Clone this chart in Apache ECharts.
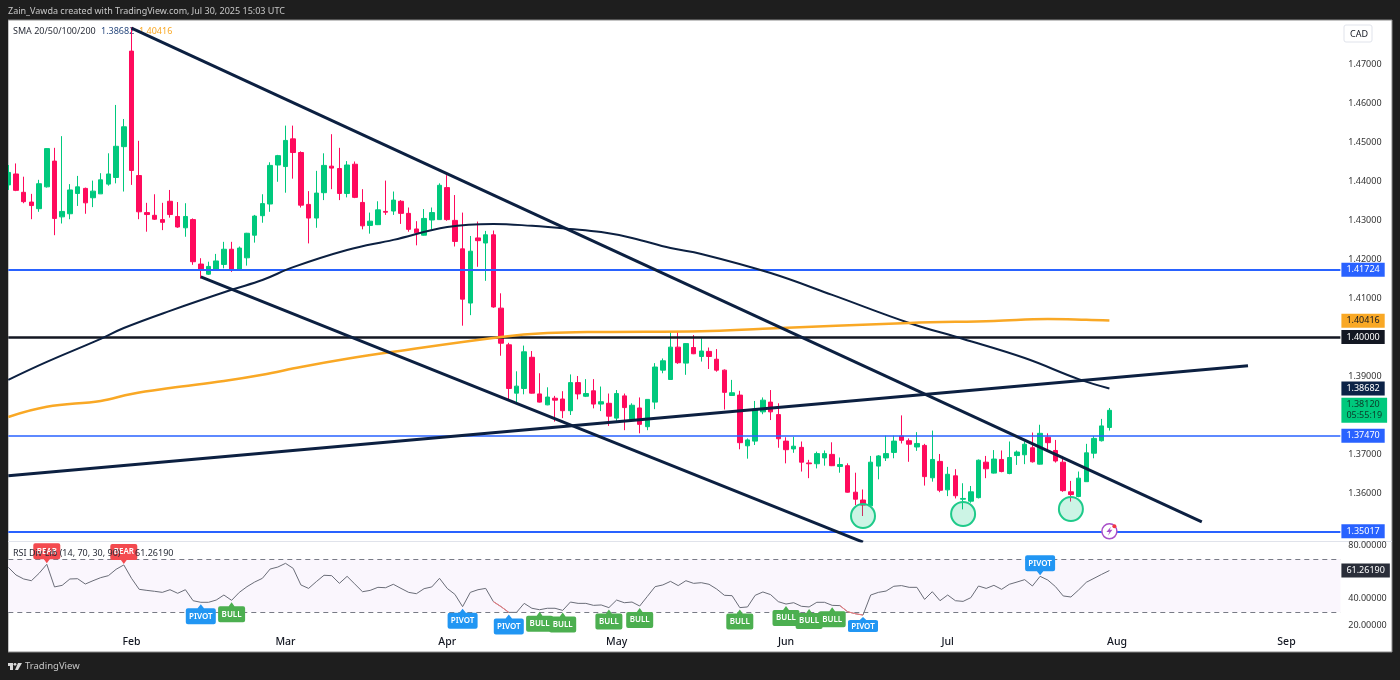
<!DOCTYPE html>
<html>
<head>
<meta charset="utf-8">
<title>USD/CAD</title>
<style>
  html, body { margin: 0; padding: 0; background: #1e1e1e; }
  .box { width: 1400px; height: 680px; }
</style>
<script src="https://cdn.jsdelivr.net/npm/echarts@6/dist/echarts.min.js"></script>
</head>
<body>
<div class="box"></div>
<script>
// daily candles
const opens = [
  1.4390,1.4418,1.4371,1.4346,1.4329,1.4385,1.4451,1.4308,1.4316,1.4368,
  1.4381,1.4357,1.4367,1.4392,1.4409,1.4488,1.4733,1.4414,1.4319,1.4312,
  1.4301,1.4348,1.4309,1.4280,1.4301,1.4187,1.4161,1.4173,1.4186,1.4225,
  1.4172,1.4203,1.4261,1.4311,1.4341,1.4441,1.4437,1.4508,1.4473,1.4340,
  1.4305,1.4370,1.4438,1.4432,1.4368,1.4443,1.4345,1.4286,1.4288,1.4322,
  1.4323,1.4348,1.4317,1.4277,1.4261,1.4300,1.4301,1.4383,1.4299,1.4226,
  1.4087,1.4254,1.4241,1.4262,1.4074,1.3980,1.3856,1.3868,1.3948,1.3854,
  1.3826,1.3843,1.3841,1.3811,1.3883,1.3848,1.3862,1.3828,1.3830,1.3792,
  1.3849,1.3789,1.3818,1.3770,1.3833,1.3915,1.3891,1.3974,1.3933,1.3973,
  1.3950,1.3963,1.3943,1.3915,1.3850,1.3851,1.3721,1.3733,1.3808,1.3833,
  1.3801,1.3733,1.3713,1.3717,1.3677,1.3675,1.3690,1.3699,1.3668,1.3670,
  1.3602,1.3582,1.3567,1.3669,1.3690,1.3704,1.3746,1.3734,1.3718,1.3722,
  1.3639,1.3681,1.3608,1.3644,1.3584,1.3579,1.3588,1.3679,1.3651,1.3686,
  1.3650,1.3696,1.3698,1.3716,1.3674,1.3743,1.3709,1.3679,1.3603,1.3591,1.3629,1.3702,1.3734,1.3768
];
const closes = [
  1.4422,1.4376,1.4347,1.4337,1.4393,1.4483,1.4304,1.4322,1.4377,1.4385,
  1.4344,1.4374,1.4403,1.4418,1.4489,1.4539,1.4427,1.4321,1.4314,1.4302,
  1.4294,1.4314,1.4282,1.4309,1.4193,1.4173,1.4181,1.4195,1.4225,1.4173,
  1.4228,1.4266,1.4310,1.4342,1.4440,1.4465,1.4504,1.4473,1.4338,1.4305,
  1.4369,1.4440,1.4433,1.4368,1.4441,1.4358,1.4285,1.4297,1.4326,1.4320,
  1.4351,1.4317,1.4276,1.4267,1.4304,1.4319,1.4389,1.4301,1.4245,1.4097,
  1.4220,1.4247,1.4262,1.4077,1.3984,1.3868,1.3874,1.3962,1.3856,1.3833,
  1.3846,1.3838,1.3811,1.3883,1.3854,1.3855,1.3828,1.3834,1.3797,1.3855,
  1.3819,1.3825,1.3776,1.3840,1.3923,1.3939,1.3974,1.3934,1.3983,1.3957,
  1.3964,1.3950,1.3915,1.3858,1.3857,1.3729,1.3736,1.3815,1.3838,1.3808,
  1.3739,1.3711,1.3720,1.3679,1.3675,1.3701,1.3701,1.3670,1.3673,1.3602,
  1.3584,1.3569,1.3679,1.3695,1.3701,1.3733,1.3735,1.3725,1.3727,1.3642,
  1.3686,1.3607,1.3648,1.3593,1.3586,1.3603,1.3684,1.3662,1.3687,1.3655,
  1.3691,1.3705,1.3725,1.3680,1.3753,1.3729,1.3682,1.3606,1.3596,1.3638,1.3703,1.3740,1.3772,1.3812
];
const highs = [
  1.4441,1.4445,1.4411,1.4367,1.4403,1.4484,1.4485,1.4515,1.4392,1.4413,
  1.4383,1.4401,1.4420,1.4471,1.4595,1.4559,1.4794,1.4503,1.4344,1.4366,
  1.4344,1.4377,1.4346,1.4343,1.4304,1.4202,1.4193,1.4213,1.4244,1.4244,
  1.4232,1.4267,1.4313,1.4366,1.4448,1.4467,1.4542,1.4542,1.4476,1.4374,
  1.4426,1.4471,1.4520,1.4485,1.4451,1.4450,1.4379,1.4319,1.4348,1.4401,
  1.4373,1.4351,1.4332,1.4297,1.4328,1.4332,1.4394,1.4415,1.4364,1.4319,
  1.4259,1.4296,1.4272,1.4273,1.4112,1.3985,1.3912,1.3978,1.3964,1.3907,
  1.3871,1.3849,1.3861,1.3904,1.3900,1.3892,1.3892,1.3873,1.3855,1.3864,
  1.3855,1.3830,1.3845,1.3840,1.3933,1.3945,1.4015,1.4015,1.3984,1.4005,
  1.3997,1.3973,1.3969,1.3917,1.3890,1.3862,1.3740,1.3836,1.3845,1.3864,
  1.3830,1.3743,1.3744,1.3732,1.3685,1.3706,1.3709,1.3730,1.3691,1.3676,
  1.3652,1.3609,1.3695,1.3697,1.3747,1.3747,1.3799,1.3740,1.3756,1.3726,
  1.3760,1.3700,1.3667,1.3661,1.3625,1.3618,1.3686,1.3695,1.3710,1.3709,
  1.3732,1.3709,1.3732,1.3755,1.3775,1.3753,1.3736,1.3695,1.3631,1.3655,1.3726,1.3746,1.3790,1.3818
];
const lows = [
  1.4377,1.4374,1.4343,1.4302,1.4321,1.4383,1.4261,1.4291,1.4302,1.4336,
  1.4316,1.4333,1.4367,1.4388,1.4394,1.4373,1.4390,1.4302,1.4270,1.4300,
  1.4274,1.4306,1.4280,1.4257,1.4185,1.4150,1.4159,1.4172,1.4176,1.4167,
  1.4170,1.4183,1.4242,1.4293,1.4321,1.4398,1.4370,1.4406,1.4332,1.4240,
  1.4280,1.4351,1.4379,1.4351,1.4358,1.4356,1.4276,1.4265,1.4287,1.4313,
  1.4313,1.4290,1.4270,1.4235,1.4260,1.4276,1.4300,1.4298,1.4232,1.4029,
  1.4056,1.4180,1.4144,1.4075,1.3952,1.3838,1.3833,1.3853,1.3855,1.3832,
  1.3825,1.3783,1.3792,1.3800,1.3840,1.3846,1.3817,1.3810,1.3772,1.3785,
  1.3761,1.3785,1.3753,1.3761,1.3815,1.3907,1.3890,1.3931,1.3903,1.3956,
  1.3937,1.3918,1.3911,1.3814,1.3849,1.3712,1.3688,1.3723,1.3802,1.3787,
  1.3716,1.3676,1.3703,1.3655,1.3638,1.3663,1.3670,1.3669,1.3652,1.3601,
  1.3569,1.3541,1.3567,1.3635,1.3682,1.3689,1.3727,1.3680,1.3708,1.3619,
  1.3629,1.3602,1.3592,1.3586,1.3558,1.3575,1.3586,1.3638,1.3650,1.3653,
  1.3648,1.3672,1.3674,1.3678,1.3673,1.3706,1.3678,1.3603,1.3578,1.3589,1.3629,1.3689,1.3732,1.3760
];

// rsi, one value per candle
const rsi = [
  63.7,57.9,54.9,53.6,59.2,66.0,48.9,50.1,54.9,55.1,
  51.1,53.6,55.9,57.4,62.2,65.5,55.4,47.1,46.3,45.6,
  44.8,46.8,44.1,46.8,38.5,37.3,37.3,39.0,42.8,38.8,
  44.8,49.1,52.6,55.4,62.4,63.9,66.7,62.9,50.4,47.8,
  52.9,57.7,57.4,51.6,56.9,51.1,45.3,46.3,48.6,48.3,
  50.9,47.8,44.8,43.8,47.6,48.9,55.4,47.8,43.3,34.0,
  44.8,46.8,47.8,37.8,34.0,29.7,29.7,36.5,32.8,31.7,
  32.8,32.8,31.2,37.5,36.5,36.5,35.0,35.3,33.3,39.0,
  37.0,37.5,34.5,41.8,49.1,50.4,53.1,49.9,53.6,51.6,
  52.1,50.9,47.3,42.6,42.3,33.3,33.8,42.6,45.1,43.1,
  37.8,36.0,37.0,34.3,33.8,37.3,37.3,35.0,34.8,30.2,
  28.7,27.7,42.8,44.8,45.8,49.4,49.9,48.6,48.6,39.5,
  45.3,38.5,42.8,38.5,38.0,40.8,49.6,47.8,50.1,47.1,
  50.9,52.6,54.4,49.6,56.9,54.1,49.1,42.1,41.3,46.6,52.4,55.4,58.4,61.26
];
const rsiRedRuns = [[63, 64, 65], [108, 109, 110, 111]];

// moving averages, read at a few candles
const sma50Idx = [0,5,12,15,21,29,33,37,44,50,57,63,68,73,77,81,86,90,99,107,117,124,132,139,143];
const sma50Val = [1.3890,1.3936,1.3995,1.4023,1.4067,1.4121,1.4146,1.4179,1.4223,1.4249,1.4282,1.4290,1.4285,1.4277,1.4269,1.4254,1.4228,1.4213,1.4164,1.4108,1.4036,1.3995,1.3946,1.3892,1.3868];
const sma200Idx = [0,5,12,16,21,28,33,38,44,50,64,70,77,90,98,117,128,135,140,143];
const sma200Val = [1.3795,1.3821,1.3836,1.3854,1.3869,1.3887,1.3903,1.3923,1.3944,1.3962,1.4000,1.4010,1.4013,1.4015,1.4021,1.4036,1.4041,1.4046,1.4044,1.4042];

// hand drawn trend lines [startIdx, startPrice, endIdx, endPrice]
const channelTop = [16, 1.4792, 155, 1.3526];
const channelBottom = [25, 1.4154, 111, 1.3474];
const risingLine = [0, 1.3644, 161, 1.3926];

// horizontal levels
const blueLevels = [1.41724, 1.37470, 1.35017];
const blueWidths = [2, 1.5, 2];
const blackLevel = 1.40000;
const sma200Last = 1.40416;
const sma50Last = 1.38682;
const lastPrice = 1.38120;
const countdown = "05:55:19";
const rsiLast = 61.26190;

// the three circled lows
const circleIdx = [111, 124, 138];
const circlePrice = [1.3541, 1.3546, 1.3559];

// rsi tags
const bearIdx = [5, 15];
const pivotUpIdx = [25, 59, 65];
const pivotClippedIdx = [111];
const pivotDownIdx = [134];
const bullIdx = [29, 69, 72, 78, 82, 95, 101, 104, 107];

// axis labels
const priceTicks = [1.47, 1.46, 1.45, 1.44, 1.43, 1.42, 1.41, 1.39, 1.37, 1.36];
const rsiTicks = [80, 40, 20];
const monthNames = ["Feb", "Mar", "Apr", "May", "Jun", "Jul", "Aug", "Sep"];
const monthIdx = [16, 36, 57, 79, 101, 122, 144, 166];

const barCount = 174;
const lastBar = 173;
const GREEN = "#00c97d";
const RED = "#ff0a5c";
const NAVY = "#0c2041";
const ORANGE = "#f9a825";
const BLUE = "#2962ff";
const FONT = '"Noto Sans"';

const categories = new Array(barCount).fill("");
monthIdx.forEach((idx, i) => { categories[idx] = monthNames[i]; });

const candles = opens.map((o, i) => [o, closes[i], lows[i], highs[i]]);
const pairs = (xs, ys) => xs.map((x, i) => [x, ys[i]]);
const trend = (t) => [[t[0], t[1]], [t[2], t[3]]];

function trendSeries(name, t) {
  return {
    name, type: "line", xAxisIndex: 0, yAxisIndex: 0, data: trend(t), symbol: "none",
    lineStyle: { color: NAVY, width: 3 }, z: 6, silent: true
  };
}

function smaSeries(name, data, color, width) {
  return {
    name, type: "line", xAxisIndex: 0, yAxisIndex: 0, data, symbol: "none",
    smooth: 0.4,
    lineStyle: { color, width }, z: 5, silent: true
  };
}

// a level with a price tag in the axis, the line itself may be invisible
function level(value, lineColor, width, tagColor, text, textColor) {
  return [
    {
      xAxis: 0, yAxis: value,
      lineStyle: { color: lineColor || "rgba(0,0,0,0)", width: width || 1, type: "solid" },
      label: {
        show: true, position: "end", distance: 1, formatter: text,
        backgroundColor: tagColor, color: textColor || "#fff",
        padding: [2, 5, 1, 5], fontSize: 9, fontFamily: FONT, lineHeight: 11
      }
    },
    { xAxis: lastBar, yAxis: value }
  ];
}

// rsi callouts, the tip sits on the line
const CALLOUT_UP = "path://M2,4 L11,4 L14,0 L17,4 L26,4 Q28,4 28,6 L28,18 Q28,20 26,20 L2,20 Q0,20 0,18 L0,6 Q0,4 2,4 Z";
const CALLOUT_DOWN = "path://M2,0 L26,0 Q28,0 28,2 L28,14 Q28,16 26,16 L17,16 L14,20 L11,16 L2,16 Q0,16 0,14 L0,2 Q0,0 2,0 Z";

function tag(idx, text, color, up, h) {
  const height = h || 20;
  return {
    coord: [idx, rsi[idx]], value: text,
    symbol: up ? CALLOUT_UP : CALLOUT_DOWN,
    symbolSize: [text === "PIVOT" ? 30 : 27, height],
    symbolOffset: [0, up ? height / 2 + 2 : -height / 2 - 1],
    itemStyle: { color },
    label: {
      show: true, formatter: text, color: "#fff", fontSize: 8, fontFamily: FONT, fontWeight: 600,
      position: "inside", offset: [0, up ? 2 : -2]
    }
  };
}

const rsiTags = [
  ...bearIdx.map(i => tag(i, "BEAR", "#f44a4f", false)),
  ...pivotUpIdx.map(i => tag(i, "PIVOT", "#2196f3", true)),
  ...pivotClippedIdx.map(i => tag(i, "PIVOT", "#2196f3", true, 15)),
  ...pivotDownIdx.map(i => tag(i, "PIVOT", "#2196f3", false)),
  ...bullIdx.map(i => tag(i, "BULL", "#4caf50", true))
];

function txt(text, x, y, fill, size, z) {
  return {
    type: "text", z: z || 1, silent: true,
    style: { text, x, y, fill, font: `${size}px ${FONT}`, textVerticalAlign: "middle" }
  };
}

const myChart = echarts.init(document.querySelector(".box"));

const option = {
  animation: false,
  backgroundColor: "#1e1e1e",
  grid: [
    { left: 4.45, top: 20, width: 1339.8, height: 521 },
    { left: 4.45, top: 542, width: 1339.8, height: 90 }
  ],
  xAxis: [
    { type: "category", gridIndex: 0, data: categories, boundaryGap: true,
      axisLine: { show: false }, axisTick: { show: false }, axisLabel: { show: false }, splitLine: { show: false } },
    { type: "category", gridIndex: 1, data: categories, boundaryGap: true,
      axisLine: { show: false }, axisTick: { show: false }, splitLine: { show: false },
      axisLabel: { interval: 0, margin: 5, color: "#131722", fontSize: 10.5, fontFamily: FONT, fontWeight: 500, hideOverlap: false } }
  ],
  yAxis: [
    { type: "value", gridIndex: 0, position: "right", min: 1.34769, max: 1.48128, scale: true,
      axisLine: { show: false }, axisTick: { show: false }, splitLine: { show: false },
      axisLabel: { customValues: priceTicks, formatter: v => v.toFixed(5), margin: 4, color: "#333", fontSize: 9, fontFamily: FONT } },
    { type: "value", gridIndex: 1, position: "right", min: 14.9, max: 82.8,
      axisLine: { show: false }, axisTick: { show: false }, splitLine: { show: false },
      axisLabel: { customValues: rsiTicks, formatter: v => v.toFixed(5), margin: 4, color: "#333", fontSize: 9, fontFamily: FONT } }
  ],
  graphic: [
    // white panel behind the plots
    { type: "rect", z: 0, silent: true, shape: { x: 8, y: 20, width: 1384, height: 632 },
      style: { fill: "#fff", stroke: "#8a8a8a", lineWidth: 1 } },
    { type: "rect", z: 0, silent: true, shape: { x: 8, y: 541, width: 1384, height: 1 }, style: { fill: "#e0e3eb" } },
    txt("Zain_Vawda created with TradingView.com, Jul 30, 2025 15:03 UTC", 8, 11, "#c8c8c8", 9),
    txt("SMA 20/50/100/200", 13, 31, "#2a2e39", 9),
    txt("1.38682", 101, 31, "#2a4a7f", 9),
    txt("1.40416", 139, 31, ORANGE, 9),
    // the rsi legend sits on top of the BEAR tags
    txt("RSI Div Lib (14, 70, 30, 90)", 13, 553, "#2a2e39", 9, 20),
    txt("61.26190", 135, 553, "#2a2e39", 9, 20),
    // currency box
    { type: "rect", z: 1, silent: true, shape: { x: 1344, y: 25, width: 28, height: 17, r: 2 },
      style: { fill: "#fff", stroke: "#e0e3eb" } },
    txt("CAD", 1350, 34, "#131722", 9),
    // footer logo
    { type: "polygon", z: 1, silent: true,
      shape: { points: [[7, 663], [13, 663], [13, 670], [10, 670], [10, 666], [7, 666]] }, style: { fill: "#d8d8d8" } },
    { type: "polygon", z: 1, silent: true,
      shape: { points: [[18, 663], [22, 663], [18, 670], [15, 670]] }, style: { fill: "#d8d8d8" } },
    { type: "circle", z: 1, silent: true, shape: { cx: 15, cy: 664.3, r: 1.4 }, style: { fill: "#d8d8d8" } },
    txt("TradingView", 25, 666, "#c8c8c8", 9.5),
    // hides the half candle left of the panel
    { type: "rect", z: 100, silent: true, shape: { x: 0, y: 0, width: 8, height: 680 }, style: { fill: "#1e1e1e" } }
  ],
  series: [
    {
      name: "USDCAD", type: "candlestick", xAxisIndex: 0, yAxisIndex: 0, data: candles, barWidth: 5, z: 3,
      itemStyle: { color: GREEN, color0: RED, borderColor: GREEN, borderColor0: RED, borderWidth: 1 },
      markLine: {
        silent: true, symbol: ["none", "none"], animation: false, z: 4,
        data: [
          level(sma200Last, null, 0, ORANGE, sma200Last.toFixed(5), "#131722"),
          level(sma50Last, null, 0, "#0c2347", sma50Last.toFixed(5)),
          ...blueLevels.map((v, i) => level(v, BLUE, blueWidths[i], BLUE, v.toFixed(5))),
          level(blackLevel, "#131722", 2.5, "#131722", blackLevel.toFixed(5)),
          level(lastPrice, null, 0, GREEN, lastPrice.toFixed(5) + "\n" + countdown, "#0b3b2a")
        ]
      }
    },
    smaSeries("SMA 50", pairs(sma50Idx, sma50Val), NAVY, 2),
    smaSeries("SMA 200", pairs(sma200Idx, sma200Val), ORANGE, 2.5),
    trendSeries("channel top", channelTop),
    trendSeries("channel bottom", channelBottom),
    trendSeries("rising line", risingLine),
    {
      name: "lows", type: "scatter", xAxisIndex: 0, yAxisIndex: 0, z: 7, silent: true,
      data: pairs(circleIdx, circlePrice), symbolSize: 24,
      itemStyle: { color: "rgba(0,201,125,0.2)", borderColor: "#1fca8a", borderWidth: 2, opacity: 1 }
    },
    // event marker on the bottom level
    {
      name: "event", type: "scatter", xAxisIndex: 0, yAxisIndex: 0, z: 7, silent: true,
      data: [[143, 1.35017]], symbolSize: 15,
      itemStyle: { color: "#fff", borderColor: "#a94fc9", borderWidth: 1.5, opacity: 1 }
    },
    {
      name: "event bolt", type: "scatter", xAxisIndex: 0, yAxisIndex: 0, z: 8, silent: true,
      data: [[143, 1.35017]], symbol: "path://M6,0 L0,7 L4,7 L2,12 L8,4 L4.5,4 Z", symbolSize: [6, 9],
      itemStyle: { color: "#a94fc9", opacity: 1 }
    },
    {
      name: "event dot", type: "scatter", xAxisIndex: 0, yAxisIndex: 0, z: 9, silent: true,
      data: [[143, 1.35017]], symbolSize: 4, symbolOffset: [5, -5],
      itemStyle: { color: "#f23645", opacity: 1 }
    },
    {
      name: "RSI", type: "line", xAxisIndex: 1, yAxisIndex: 1, data: rsi, symbol: "none", z: 4,
      lineStyle: { color: "#6a6d78", width: 1 }, silent: true,
      markArea: {
        silent: true, itemStyle: { color: "#faf6fd" },
        data: [[{ xAxis: 0, yAxis: 70 }, { xAxis: lastBar, yAxis: 30 }]]
      },
      markLine: {
        silent: true, symbol: ["none", "none"], animation: false,
        lineStyle: { color: "#787b86", width: 1, type: [5, 4] },
        label: { show: false },
        data: [
          [{ xAxis: 0, yAxis: 70 }, { xAxis: lastBar, yAxis: 70 }],
          [{ xAxis: 0, yAxis: 30 }, { xAxis: lastBar, yAxis: 30 }],
          level(rsiLast, null, 0, "#2a2e39", rsiLast.toFixed(5))
        ]
      },
      markPoint: { silent: true, animation: false, data: rsiTags, z: 6 }
    },
    ...rsiRedRuns.map((run, i) => ({
      name: "RSI low " + i, type: "line", xAxisIndex: 1, yAxisIndex: 1, symbol: "none", z: 5, silent: true,
      data: run.map(idx => [idx, rsi[idx]]), lineStyle: { color: "#f77c80", width: 1 }
    }))
  ]
};

myChart.setOption(option);
</script>
</body>
</html>
